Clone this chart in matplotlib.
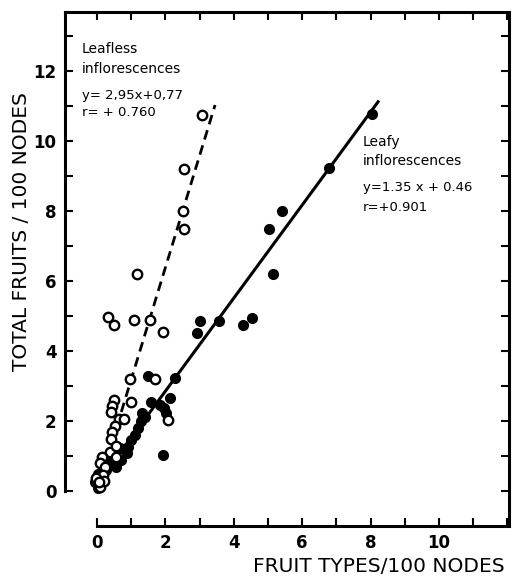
import matplotlib.pyplot as plt
from matplotlib import font_manager

# leafless inflorescences (open circles)
leafless_x = [3.06, 2.55, 2.52, 2.55, 1.18, 0.33, 0.48, 1.08, 1.55, 1.92,
              0.96, 1.68, 0.48, 1.00, 0.44, 0.40, 0.63, 0.79, 2.08, 0.52,
              0.44, 0.42, 0.37, 0.56, 0.13, 0.08, 0.22, 0.18, -0.02, 0.08,
              0.55, 0.20, 0.05]
leafless_y = [10.74, 9.21, 8.00, 7.48, 6.22, 4.97, 4.76, 4.88, 4.88, 4.54,
              3.20, 3.20, 2.60, 2.56, 2.42, 2.27, 2.06, 2.06, 2.03, 1.87,
              1.68, 1.49, 1.13, 0.98, 0.98, 0.79, 0.70, 0.46, 0.36, 0.12,
              1.30, 0.30, 0.25]

# leafy inflorescences (filled circles)
leafy_x = [8.04, 6.78, 5.40, 5.04, 5.16, 3.01, 3.57, 2.91, 4.54, 4.28,
           1.49, 2.29, 1.59, 2.12, 1.83, 1.97, 2.02, 1.39, 1.29, 1.20,
           1.10, 1.00, 0.91, 0.86, 0.66, 0.71, 0.32, 0.42, 0.27, 0.03,
           -0.07, 0.03, 1.93, 1.30, 0.55, 0.15]
leafy_y = [10.77, 9.23, 8.00, 7.50, 6.22, 4.87, 4.87, 4.52, 4.95, 4.74,
           3.28, 3.23, 2.56, 2.65, 2.46, 2.37, 2.23, 2.13, 1.99, 1.79,
           1.60, 1.46, 1.27, 1.08, 1.22, 0.89, 0.94, 0.79, 0.60, 0.50,
           0.27, 0.09, 1.03, 2.23, 0.70, 0.35]

# fitted lines as drawn: slope, intercept, x range
leafless_fit = [3.2, 0.0, 0.3, 3.45]
leafy_fit = [1.33, 0.2, 0.2, 8.22]

x_ticks = list(range(0, 13))
y_ticks = list(range(0, 14))

names = {f.name for f in font_manager.fontManager.ttflist}
label_font = 'Liberation Sans Narrow' if 'Liberation Sans Narrow' in names else 'DejaVu Sans'

fig = plt.figure(figsize=(5.14, 5.78), dpi=100)
ax = fig.add_axes([65 / 514, 1 - 526 / 578, 444 / 514, 514 / 578])

ax.plot(leafy_x, leafy_y, 'o', color='black', markersize=7, zorder=3)
ax.plot(leafless_x, leafless_y, 'o', markerfacecolor='white', markeredgecolor='black',
        markersize=6.8, markeredgewidth=1.7, zorder=4)

s, b, x0, x1 = leafless_fit
ax.plot([x0, x1], [s * x0 + b, s * x1 + b], color='black', lw=2.0,
        dashes=(3.5, 2.2), zorder=2)
s, b, x0, x1 = leafy_fit
ax.plot([x0, x1], [s * x0 + b, s * x1 + b], color='black', lw=2.2, zorder=2)

ax.set_xlim(-0.94, 12.05)
ax.set_ylim(-1.0, 13.7)
ax.spines['left'].set_bounds(0, 13.7)
ax.spines['bottom'].set_bounds(0, 12.05)
for sp in ax.spines.values():
    sp.set_linewidth(2.2)

ax.set_xticks(x_ticks)
ax.set_yticks(y_ticks)
ax.set_xticklabels([str(v) if v % 2 == 0 and v < 12 else '' for v in x_ticks])
ax.set_yticklabels([str(v) if v % 2 == 0 else '' for v in y_ticks])
ax.tick_params(direction='in', length=6, width=1.5, top=True, right=True,
               labelsize=12, pad=6)
for lab in ax.get_xticklabels() + ax.get_yticklabels():
    lab.set_fontweight('bold')

fig.text(505 / 514, 1 - 567 / 578, 'FRUIT TYPES/100 NODES', ha='right', va='center',
         fontsize=14.5, family=label_font)
fig.text(22 / 514, 1 - 232 / 578, 'TOTAL FRUITS / 100 NODES', ha='center', va='center',
         rotation=90, fontsize=14.5, family=label_font)

ax.text(-0.44, 12.64, 'Leafless', fontsize=10, va='center')
ax.text(-0.44, 12.06, 'inflorescences', fontsize=10, va='center')
ax.text(-0.44, 11.30, 'y= 2,95x+0,77', fontsize=9.5, va='center')
ax.text(-0.44, 10.84, 'r= + 0.760', fontsize=9.5, va='center')

ax.text(7.78, 9.97, 'Leafy', fontsize=10, va='center')
ax.text(7.78, 9.43, 'inflorescences', fontsize=10, va='center')
ax.text(7.78, 8.68, 'y=1.35 x + 0.46', fontsize=9.5, va='center')
ax.text(7.78, 8.11, 'r=+0.901', fontsize=9.5, va='center')

fig.savefig('out.png', dpi=100)
